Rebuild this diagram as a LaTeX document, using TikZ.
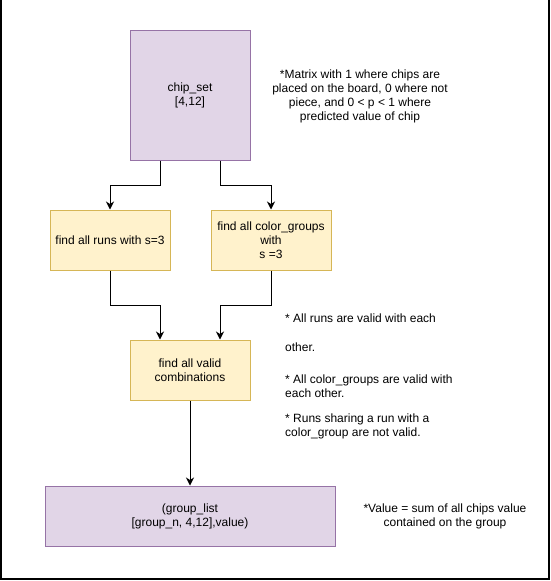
\documentclass[tikz,border=0pt]{standalone}
\usepackage{fontspec}
\setmainfont{Liberation Sans}
\usepackage{xcolor}
\usepackage{tikz}
\usetikzlibrary{positioning, arrows.meta}

\definecolor{purplefill}{HTML}{E1D5E7}
\definecolor{purpleline}{HTML}{9673A6}
\definecolor{yellowfill}{HTML}{FFF2CC}
\definecolor{yellowline}{HTML}{D6B656}

\begin{document}
\begin{tikzpicture}[x=1pt, y=-1pt,
		every node/.style={font=\fontsize{12}{14}\selectfont, align=center, inner sep=0pt},
		databox/.style={draw=purpleline, fill=purplefill, line width=1pt},
		stepbox/.style={draw=yellowline, fill=yellowfill, line width=1pt, minimum width=120pt, minimum height=60pt},
		note/.style={align=left, anchor=west},
		arr/.style={-{Stealth[length=8pt, width=8pt, inset=2.5pt]}, line width=1pt}]
		\useasboundingbox (0,0) rectangle (551,581);
		% Frame
		\draw[line width=1.5pt] (1,-2) -- (1,579) -- (549,579) -- (549,-2);
		
		% Nodes
		\node[databox, minimum width=120pt, minimum height=130pt] (chipset) at (190,95) {chip\_set\\ {[4,12]}};
		\node[stepbox] (runs) at (110,240) {find all runs with s=3};
		\node[stepbox] (colors) [right=40pt of runs] {find all color\_groups\\ with\\ s =3};
		\node[stepbox] (combos) at (190,370) {find all valid\\ combinations};
		\node[databox, minimum width=290pt, minimum height=60pt] (grouplist) [below=85pt of combos] {(group\_list\\ {[group\_n, 4,12],value)}};
		
		% Notes
		\node (matrixnote) at (360,96) {*Matrix with 1 where chips are\\ placed on the board, 0 where not\\ piece, and 0 < p < 1 where\\ predicted value of chip};
		\node[note] (runsnote) at (285,332.5) {* All runs are valid with each\\[15pt] other.};
		\node[note] (colorsnote) at (285,386.5) {* All color\_groups are valid with\\ each other.};
		\node[note] (sharenote) at (285,426.5) {* Runs sharing a run with a\\ color\_group are not valid.};
		\node (valuenote) at (445,516.5) {*Value = sum of all chips value\\ contained on the group};
		
		% Edges
		\draw[arr] ([xshift=-30pt]chipset.south) -- ++(0,25) -| (runs.north);
		\draw[arr] ([xshift=30pt]chipset.south) -- ++(0,25) -| (colors.north);
		\draw[arr] (runs.south) -- ++(0,35) -| ([xshift=-30pt]combos.north);
		\draw[arr] (colors.south) -- ++(0,35) -| ([xshift=30pt]combos.north);
		\draw[arr] (combos.south) -- (grouplist.north);
	\end{tikzpicture}
\end{document}
